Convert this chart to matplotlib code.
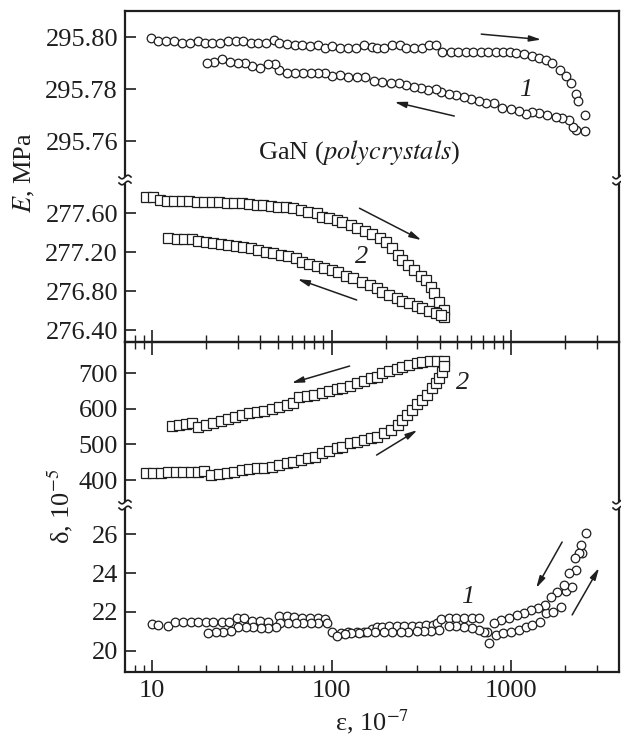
import matplotlib
matplotlib.use('Agg')
import matplotlib.pyplot as plt
from matplotlib.lines import Line2D
from matplotlib.patches import Rectangle
import numpy as np

# ---- E, curve 1 (circles, top panel) ----
e1_fwd_x = [9.9, 10.8, 12.0, 13.2, 14.7, 16.3, 18.0, 19.7, 21.5, 23.9, 26.4, 29.3, 32.0,
            35.5, 38.8, 43.0, 47.6, 50.8, 56.2, 62.3, 68.1, 75.4, 83.6, 91.5, 101, 112,
            124, 136, 151, 167, 178, 197, 218, 239, 261, 289, 320, 350, 383, 414, 464,
            508, 562, 615, 681, 745, 826, 903, 987, 1067, 1181, 1308, 1432, 1565, 1690,
            1872, 2021, 2154, 2297, 2355, 2578]
e1_fwd_y = [295.7995, 295.7986, 295.7986, 295.7986, 295.7976, 295.7976, 295.7985, 295.7976,
            295.7976, 295.7976, 295.7986, 295.7986, 295.7986, 295.7976, 295.7976, 295.7976,
            295.7988, 295.7978, 295.7973, 295.7969, 295.7969, 295.7965, 295.7969, 295.7956,
            295.7965, 295.7956, 295.7956, 295.7956, 295.7969, 295.7963, 295.7956, 295.7956,
            295.7969, 295.7969, 295.7956, 295.7956, 295.7956, 295.7969, 295.7969, 295.7943,
            295.7943, 295.7943, 295.7943, 295.7943, 295.7943, 295.7943, 295.7943, 295.7943,
            295.7943, 295.7937, 295.7933, 295.7927, 295.7920, 295.7912, 295.7901, 295.7873,
            295.7850, 295.7823, 295.7781, 295.7754, 295.7700]
e1_ret_x = [2578, 2297, 2208, 2100, 1920, 1778, 1585, 1432, 1308, 1211, 1107, 1000, 891,
            805, 727, 664, 600, 548, 495, 452, 408, 383, 346, 316, 289, 261, 236, 215, 192,
            173, 153, 138, 124, 112, 101, 91.5, 83.6, 76.4, 69.0, 62.3, 56.2, 50.8, 48.2,
            44.1, 39.8, 35.9, 32.9, 30.0, 27.1, 24.5, 22.1, 20.2]
e1_ret_y = [295.7638, 295.7642, 295.7654, 295.7680, 295.7688, 295.7692, 295.7700, 295.7708,
            295.7712, 295.7704, 295.7715, 295.7723, 295.7727, 295.7746, 295.7746, 295.7754,
            295.7761, 295.7769, 295.7777, 295.7781, 295.7788, 295.7800, 295.7796, 295.7804,
            295.7808, 295.7815, 295.7823, 295.7823, 295.7827, 295.7831, 295.7846, 295.7846,
            295.7846, 295.7854, 295.7850, 295.7861, 295.7861, 295.7861, 295.7861, 295.7861,
            295.7861, 295.7873, 295.7895, 295.7895, 295.7881, 295.7888, 295.7901, 295.7901,
            295.7905, 295.7914, 295.7905, 295.7901]

# ---- E, curve 2 (squares) ----
e2_fwd_x = [9.23, 10.1, 11.1, 12.1, 13.2, 14.7, 16.1, 17.8, 19.4, 21.5, 23.6, 26.1, 28.5,
            31.6, 34.6, 38.3, 41.4, 45.8, 50.1, 55.5, 60.7, 67.2, 73.5, 82.5, 88.0, 96.2,
            107, 115, 129, 139, 154, 167, 185, 200, 218, 233, 248, 268, 289, 316, 337, 359,
            373, 398, 424, 424]
e2_fwd_y = [277.767, 277.767, 277.733, 277.723, 277.723, 277.723, 277.723, 277.716, 277.710,
            277.710, 277.710, 277.706, 277.699, 277.699, 277.692, 277.682, 277.682, 277.675,
            277.665, 277.658, 277.648, 277.631, 277.613, 277.597, 277.562, 277.546, 277.528,
            277.504, 277.477, 277.449, 277.415, 277.382, 277.347, 277.300, 277.238, 277.169,
            277.118, 277.067, 277.015, 276.957, 276.913, 276.844, 276.777, 276.690, 276.605,
            276.536]
e2_ret_x = [12.3, 13.8, 15.1, 16.7, 18.0, 20.0, 21.8, 24.2, 26.4, 29.3, 32.0, 35.5, 38.8,
            43.0, 47.0, 52.1, 57.0, 63.1, 68.1, 74.5, 82.5, 90.3, 100, 109, 121, 132, 147,
            163, 178, 192, 210, 230, 248, 271, 297, 320, 350, 383, 408]
e2_ret_y = [277.341, 277.333, 277.333, 277.333, 277.313, 277.300, 277.289, 277.279, 277.272,
            277.265, 277.254, 277.238, 277.221, 277.203, 277.187, 277.169, 277.162, 277.135,
            277.094, 277.077, 277.060, 277.039, 277.015, 276.992, 276.957, 276.930, 276.895,
            276.862, 276.828, 276.793, 276.759, 276.725, 276.697, 276.674, 276.649, 276.623,
            276.595, 276.571, 276.554]

# ---- delta, curve 2 (squares) ----
d2_up_x = [12.9, 14.1, 15.5, 16.7, 18.0, 20.0, 21.8, 24.2, 26.4, 28.9, 31.6, 34.6, 38.3,
           41.9, 46.4, 50.8, 56.2, 60.7, 65.6, 72.7, 79.4, 88.0, 96.2, 107, 115, 126, 138,
           151, 165, 178, 192, 210, 230, 248, 271, 297, 320, 355, 388, 424]
d2_up_y = [552.4, 554.3, 556.3, 559.1, 549.6, 554.3, 559.1, 565.6, 571.2, 577.6, 582.4,
           587.1, 589.9, 593.6, 599.2, 603.9, 610.4, 615.1, 633.6, 635.6, 638.4, 643.1,
           649.6, 655.2, 657.1, 664.4, 671.1, 677.6, 686.0, 689.6, 699.2, 705.6, 711.2,
           717.6, 722.4, 727.2, 730.0, 733.6, 733.6, 733.6]
d2_lo_x = [9.26, 10.1, 11.2, 12.3, 13.6, 14.9, 16.5, 18.0, 19.4, 21.3, 23.6, 26.1, 28.5,
           31.6, 34.6, 38.3, 41.9, 46.4, 50.8, 56.2, 60.7, 67.2, 73.5, 80.5, 88.0, 96.2,
           107, 115, 126, 138, 151, 165, 180, 197, 215, 233, 248, 264, 282, 300, 320, 341,
           364, 383, 398, 414, 424]
d2_lo_y = [419.1, 420.7, 420.7, 421.9, 421.9, 421.9, 421.9, 421.9, 425.5, 414.3, 416.3,
           419.1, 423.5, 428.3, 431.1, 433.1, 434.7, 437.5, 442.3, 447.1, 451.5, 456.3,
           461.1, 465.6, 475.1, 481.5, 488.9, 493.6, 503.1, 507.6, 512.3, 516.5, 522.0,
           530.5, 540.3, 554.3, 568.4, 582.4, 596.4, 612.3, 624.4, 638.4, 657.1, 671.1,
           685.2, 703.6, 720.4]

# ---- delta, curve 1 (circles) ----
d1_fwd_x = [10, 10.8, 12.3, 13.4, 14.9, 16.5, 18.0, 20.0, 21.8, 24.5, 26.8, 29.7, 32.5,
            35.9, 39.8, 44.1, 50.8, 56.2, 61.5, 68.1, 75.4, 83.6, 91.5, 101, 113, 124, 138,
            151, 167, 178, 192, 210, 230, 254, 282, 308, 337, 369, 388, 408, 452, 495, 548,
            607, 664, 826, 903, 1000, 1107, 1211, 1308, 1449, 1565, 1710, 1897, 2021, 2183,
            2297, 2478]
d1_fwd_y = [21.37, 21.33, 21.28, 21.50, 21.50, 21.50, 21.50, 21.50, 21.50, 21.50, 21.50,
            21.68, 21.68, 21.55, 21.55, 21.50, 21.79, 21.79, 21.73, 21.68, 21.68, 21.68,
            21.63, 20.99, 20.94, 20.99, 20.99, 20.99, 21.11, 21.25, 21.25, 21.28, 21.28,
            21.28, 21.28, 21.30, 21.33, 21.33, 21.42, 21.63, 21.68, 21.68, 21.71, 21.71,
            21.68, 20.82, 20.91, 20.99, 21.08, 21.25, 21.33, 21.50, 21.93, 22.02, 22.27,
            23.09, 23.30, 24.15, 25.01]
d1_ret_x = [2610, 2449, 2388, 2268, 2100, 1968, 1802, 1668, 1545, 1413, 1292, 1181, 1080,
            975, 880, 805, 756, 736, 708, 664, 607, 548, 495, 452, 398, 359, 329, 297, 268,
            242, 218, 197, 175, 158, 143, 129, 118, 107, 93.8, 83.6, 76.4, 69.0, 63.1, 57.0,
            51.4, 48.9, 44.1, 40.3, 36.4, 33.3, 30.0, 27.5, 24.8, 22.7, 20.5]
d1_ret_y = [26.03, 25.44, 25.03, 24.77, 24.00, 23.38, 23.04, 22.75, 22.36, 22.19, 22.10,
            21.93, 21.85, 21.68, 21.59, 21.42, 20.41, 20.99, 20.99, 21.08, 21.16, 21.25,
            21.28, 21.28, 21.05, 21.03, 21.00, 21.00, 20.99, 20.98, 20.98, 20.97, 20.96,
            20.95, 20.94, 20.92, 20.87, 20.77, 21.42, 21.42, 21.42, 21.42, 21.42, 21.42,
            21.42, 21.25, 21.16, 21.16, 21.22, 21.22, 21.25, 21.04, 20.99, 20.99, 20.94]

e1_ticks = [295.76, 295.78, 295.80]
e2_ticks = [276.40, 276.80, 277.20, 277.60]
d2_ticks = [400, 500, 600, 700]
d1_ticks = [20, 22, 24, 26]
x_ticks = [10, 100, 1000]

plt.rcParams['font.family'] = ['Liberation Serif', 'DejaVu Serif']
plt.rcParams['mathtext.fontset'] = 'stix'

INK = '#1e1e1e'
FS = 19
W, H = 621, 743
fig = plt.figure(figsize=(W / 100, H / 100), dpi=100)


def px_axes(top, bottom):
    return fig.add_axes([125 / W, 1 - bottom / H, 494 / W, (bottom - top) / H])


def fx(xpx):
    return xpx / W


def fy(ypx):
    return 1 - ypx / H


ax1 = px_axes(11, 180)
ax2 = px_axes(180, 342)
ax3 = px_axes(342, 505)
ax4 = px_axes(505, 672)
axes = [ax1, ax2, ax3, ax4]

circ = dict(marker='o', ms=6.2, mfc='white', mec=INK, mew=0.9, ls='none')
sqr = dict(marker='s', ms=6.6, mfc='white', mec=INK, mew=0.9, ls='none')

ax1.plot(e1_fwd_x, e1_fwd_y, **circ)
ax1.plot(e1_ret_x, e1_ret_y, **circ)
ax2.plot(e2_fwd_x, e2_fwd_y, **sqr)
ax2.plot(e2_ret_x, e2_ret_y, **sqr)
ax3.plot(d2_up_x, d2_up_y, **sqr)
ax3.plot(d2_lo_x, d2_lo_y, **sqr)
ax4.plot(d1_fwd_x, d1_fwd_y, **circ)
ax4.plot(d1_ret_x, d1_ret_y, **circ)

ax1.set_ylim(295.745, 295.81)
ax2.set_ylim(276.277, 277.94)
ax3.set_ylim(330, 787)
ax4.set_ylim(18.92, 27.49)

ax1.set_yticks(e1_ticks, [f'{v:.2f}' for v in e1_ticks])
ax2.set_yticks(e2_ticks, [f'{v:.2f}' for v in e2_ticks])
ax3.set_yticks(d2_ticks, [str(v) for v in d2_ticks])
ax4.set_yticks(d1_ticks, [str(v) for v in d1_ticks])

for ax in axes:
    ax.set_xscale('log')
    ax.set_xlim(7.08, 3980)
    for s in ax.spines.values():
        s.set_linewidth(1.6)
        s.set_color(INK)
    ax.tick_params(axis='y', which='both', direction='in', length=8, width=1.2,
                   labelsize=FS, pad=5, colors=INK, right=False)
    ax.tick_params(axis='x', which='major', direction='in', length=9, width=1.2,
                   labelsize=FS, pad=6, colors=INK)
    ax.tick_params(axis='x', which='minor', direction='in', length=5, width=1.0, colors=INK)
    ax.set_facecolor('none')

ax1.spines['bottom'].set_visible(False)
ax2.spines['top'].set_visible(False)
ax3.spines['bottom'].set_visible(False)
ax4.spines['top'].set_visible(False)

ax1.tick_params(axis='x', which='both', bottom=False, top=False, labelbottom=False)
ax2.tick_params(axis='x', which='both', bottom=True, top=False, labelbottom=False)
ax3.tick_params(axis='x', which='both', bottom=False, top=True, labelbottom=False)
ax4.tick_params(axis='x', which='both', bottom=True, top=False)
ax4.set_xticks(x_ticks, [str(v) for v in x_ticks])

# axis labels
fig.text(fx(24), fy(173), '$E$, MPa', rotation=90, ha='center', va='center',
         fontsize=FS, color=INK)
fig.text(fx(60), fy(506), 'δ, 10$^{-5}$', rotation=90, ha='center', va='center',
         fontsize=FS, color=INK)
fig.text(fx(372), fy(722), 'ε, 10$^{-7}$', ha='center', va='center',
         fontsize=FS, color=INK)

# axis break marks: white gap in the spine with two small tildes
t = np.linspace(-1, 1, 25)
for ypx in (180, 505):
    for xpx in (125, 619):
        fig.add_artist(Rectangle((fx(xpx - 3), fy(ypx + 3)), 6 / W, 6 / H,
                                 transform=fig.transFigure, fc='white', ec='none',
                                 zorder=5))
        for dy in (-3, 3):
            fig.add_artist(Line2D(fx(xpx + 6 * t), fy(ypx + dy - 1.8 * np.sin(np.pi * t)),
                                  transform=fig.transFigure, color=INK, lw=1.2,
                                  zorder=6))

# annotations
ax1.text(143, 295.7557, 'GaN ($\\mathit{polycrystals}$)', ha='center', va='center',
         fontsize=FS, color=INK)
ax1.text(1211, 295.7796, '1', style='italic', ha='center', va='center', fontsize=FS, color=INK)
ax2.text(147, 277.149, '2', style='italic', ha='center', va='center', fontsize=FS, color=INK)
ax3.text(534, 672, '2', style='italic', ha='center', va='center', fontsize=FS, color=INK)
ax4.text(570, 22.77, '1', style='italic', ha='center', va='center', fontsize=FS, color=INK)

arr = dict(arrowstyle='-|>,head_length=0.7,head_width=0.18', lw=1.1, color=INK,
           shrinkA=0, shrinkB=0)
ax1.annotate('', xy=(1468, 295.7990), xytext=(681, 295.8011), arrowprops=arr)
ax1.annotate('', xy=(224, 295.7750), xytext=(482, 295.7696), arrowprops=arr)
ax2.annotate('', xy=(316, 277.323), xytext=(143, 277.650), arrowprops=arr)
ax2.annotate('', xy=(64.7, 276.923), xytext=(138, 276.708), arrowprops=arr)
ax3.annotate('', xy=(60, 672), xytext=(126, 719.6), arrowprops=arr)
ax3.annotate('', xy=(300, 540), xytext=(178, 470), arrowprops=arr)
ax4.annotate('', xy=(1377, 23.23), xytext=(1920, 25.59), arrowprops=arr)
ax4.annotate('', xy=(3083, 24.26), xytext=(2183, 21.85), arrowprops=arr)

fig.savefig('out.png', dpi=100)
